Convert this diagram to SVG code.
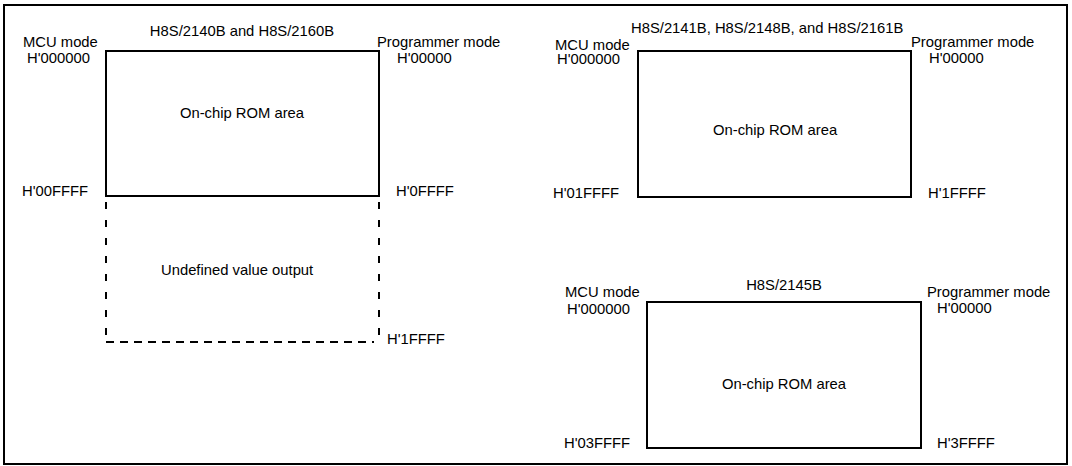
<svg xmlns="http://www.w3.org/2000/svg" width="1072" height="466" viewBox="0 0 1072 466">
<style>
text{font-family:"Liberation Sans",Arial,sans-serif;font-size:14.8px;fill:#000}
.c{text-anchor:middle}
.box{fill:none;stroke:#000;stroke-width:2}
.dh{fill:none;stroke:#000;stroke-width:2;stroke-dasharray:8 6}
.dv{fill:none;stroke:#000;stroke-width:2;stroke-dasharray:7 11}
</style>
<rect x="4" y="5" width="1063" height="459" class="box"/>
<g id="map1">
<text class="c" x="242" y="36">H8S/2140B and H8S/2160B</text>
<text x="23" y="47">MCU mode</text>
<text x="27" y="63">H'000000</text>
<text x="377" y="47">Programmer mode</text>
<text x="397" y="63">H'00000</text>
<rect id="rom1" x="106" y="51" width="273" height="145" class="box"/>
<text class="c" x="242" y="118">On-chip ROM area</text>
<text x="22" y="196">H'00FFFF</text>
<text x="396" y="196">H'0FFFF</text>
<g id="undef1">
<line x1="106" y1="202" x2="106" y2="342" class="dv"/>
<line x1="379" y1="202" x2="379" y2="342" class="dv"/>
<line x1="106" y1="342" x2="374" y2="342" class="dh"/>
</g>
<text x="161" y="275">Undefined value output</text>
<text x="387" y="344">H'1FFFF</text>
</g>
<g id="map2">
<text x="631" y="33">H8S/2141B, H8S/2148B, and H8S/2161B</text>
<text x="555" y="50">MCU mode</text>
<text x="557" y="64">H'000000</text>
<text x="911" y="47">Programmer mode</text>
<text x="929" y="63">H'00000</text>
<rect id="rom2" x="638" y="51" width="273" height="146" class="box"/>
<text x="713" y="135">On-chip ROM area</text>
<text x="553" y="198">H'01FFFF</text>
<text x="928" y="198">H'1FFFF</text>
</g>
<g id="map3">
<text class="c" x="784" y="290">H8S/2145B</text>
<text x="565" y="297">MCU mode</text>
<text x="567" y="314">H'000000</text>
<text x="927" y="297">Programmer mode</text>
<text x="937" y="313">H'00000</text>
<rect id="rom3" x="647" y="302" width="274" height="146" class="box"/>
<text class="c" x="784" y="389">On-chip ROM area</text>
<text x="564" y="448">H'03FFFF</text>
<text x="937" y="448">H'3FFFF</text>
</g>
</svg>
